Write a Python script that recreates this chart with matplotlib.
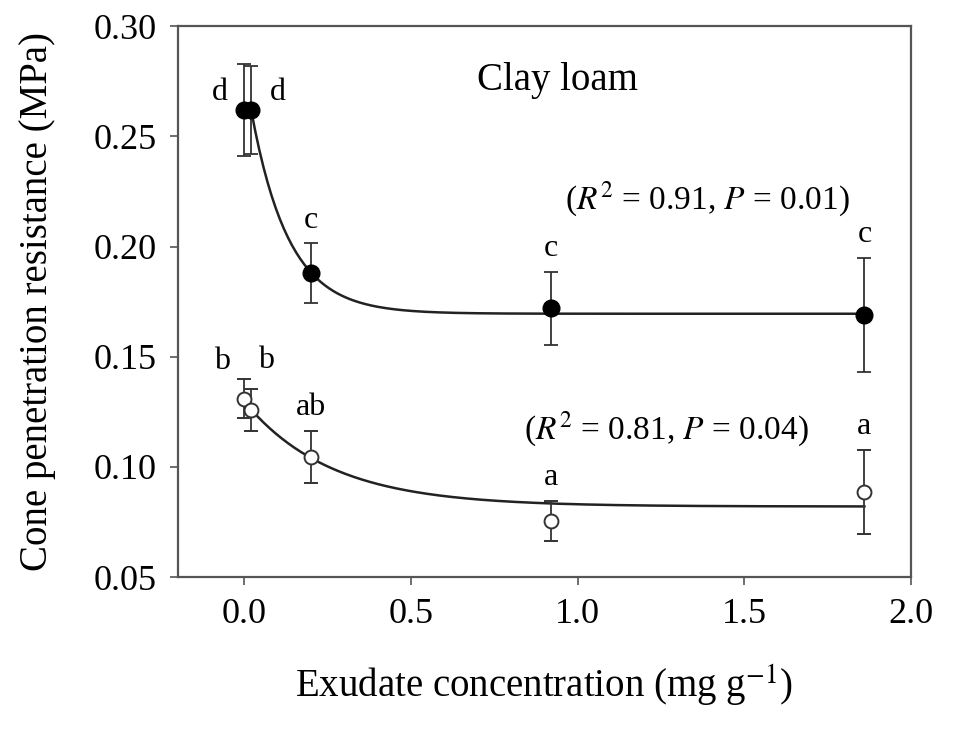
import numpy as np
import matplotlib
matplotlib.use('Agg')
import matplotlib.pyplot as plt

plt.rcParams['font.family'] = ['Liberation Serif', 'DejaVu Serif']
plt.rcParams['mathtext.fontset'] = 'stix'

# data
conc = [0.0, 0.02, 0.2, 0.92, 1.86]
filled_y = [0.262, 0.262, 0.188, 0.172, 0.169]
filled_err = [0.021, 0.020, 0.0135, 0.0165, 0.026]
filled_letters = ['d', 'd', 'c', 'c', 'c']
open_y = [0.131, 0.1258, 0.1045, 0.0755, 0.0886]
open_err = [0.009, 0.0097, 0.012, 0.009, 0.019]
open_letters = ['b', 'b', 'ab', 'a', 'a']

# fitted exponential decay: y = y0 + a*exp(-b*(x - x0))
filled_fit = [0.1695, 0.0925, 8.9]
open_fit = [0.082, 0.044, 3.85]

fig = plt.figure(figsize=(9.56, 7.29), dpi=100)
ax = fig.add_axes([0.186, 0.2085, 0.767, 0.7555])

xs = np.linspace(conc[1], conc[-1], 300)
for p in (filled_fit, open_fit):
    ax.plot(xs, p[0] + p[1] * np.exp(-p[2] * (xs - conc[1])), color='#222222', lw=1.8, zorder=2)

ax.errorbar(conc, filled_y, yerr=filled_err, fmt='o', ms=12, mfc='black', mec='black',
            ecolor='#333333', elinewidth=1.3, capsize=5, capthick=1.3, zorder=3)
ax.errorbar(conc, open_y, yerr=open_err, fmt='o', ms=10, mfc='white', mec='#333333', mew=1.4,
            ecolor='#333333', elinewidth=1.3, capsize=5, capthick=1.3, zorder=3)

fs_letter = 23
# first two letters sit left/right of the overlapping points
ax.text(-0.075, 0.270, filled_letters[0], fontsize=fs_letter, ha='center', va='center')
ax.text(0.10, 0.270, filled_letters[1], fontsize=fs_letter, ha='center', va='center')
ax.text(-0.066, 0.1478, open_letters[0], fontsize=fs_letter, ha='center', va='center')
ax.text(0.066, 0.1484, open_letters[1], fontsize=fs_letter, ha='center', va='center')
for i in range(2, len(conc)):
    ax.text(conc[i], filled_y[i] + filled_err[i] + 0.0105, filled_letters[i],
            fontsize=fs_letter, ha='center', va='center')
    ax.text(conc[i], open_y[i] + open_err[i] + 0.0105, open_letters[i],
            fontsize=fs_letter, ha='center', va='center')

ax.text(0.94, 0.2755, 'Clay loam', fontsize=28, ha='center', va='center')
ax.text(1.39, 0.2215, '($R^2$ = 0.91, $P$ = 0.01)', fontsize=24, ha='center', va='center')
ax.text(1.265, 0.117, '($R^2$ = 0.81, $P$ = 0.04)', fontsize=24, ha='center', va='center')

ax.set_xlim(-0.2, 2.0)
ax.set_ylim(0.05, 0.30)
ax.set_xticks([0.0, 0.5, 1.0, 1.5, 2.0])
ax.set_xticklabels(['0.0', '0.5', '1.0', '1.5', '2.0'])
ax.set_yticks([0.05, 0.10, 0.15, 0.20, 0.25, 0.30])
ax.set_yticklabels(['0.05', '0.10', '0.15', '0.20', '0.25', '0.30'])
ax.tick_params(direction='out', length=6, width=1.2, labelsize=26, color='#555555', pad=9)
for s in ax.spines.values():
    s.set_color('#555555')
    s.set_linewidth(1.6)

ax.set_xlabel('Exudate concentration (mg g$^{-1}$)', fontsize=28)
ax.set_ylabel('Cone penetration resistance (MPa)', fontsize=28)
ax.xaxis.set_label_coords(0.5, -0.155)
ax.yaxis.set_label_coords(-0.166, 0.5)

fig.savefig('out.png', dpi=100)
